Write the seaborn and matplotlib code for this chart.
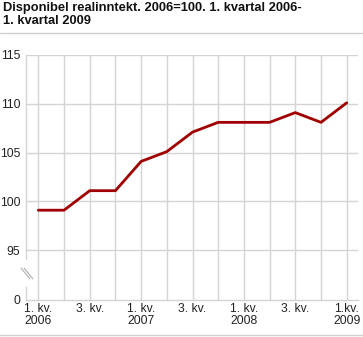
import numpy as np
import pandas as pd
import matplotlib
matplotlib.use("Agg")
import matplotlib.pyplot as plt
import seaborn as sns

quarters = list(range(13))
values = [99.1, 99.1, 101.1, 101.1, 104.1, 105.1, 107.1, 108.1, 108.1, 108.1, 109.1, 108.1, 110.1]
tick_pos = [0, 2, 4, 6, 8, 10, 12]
tick_labels = ["1. kv.\n2006", "3. kv.", "1. kv.\n2007", "3. kv.", "1. kv.\n2008", "3. kv.", "1.kv.\n2009"]
y_ticks = [0, 95, 100, 105, 110, 115]
title = "Disponibel realinntekt. 2006=100. 1. kvartal 2006-\n1. kvartal 2009"

sns.set_style("white")
plt.rcParams['font.family'] = ['Liberation Sans', 'DejaVu Sans']

def fwd(y):
    y = np.asarray(y, dtype=float)
    return np.where(y >= 95, y, 95 - (95 - y) / 95 * 5.1)

def inv(y):
    y = np.asarray(y, dtype=float)
    return np.where(y >= 95, y, 95 - (95 - y) * 95 / 5.1)

fig = plt.figure(figsize=(3.63, 3.37), dpi=100)
ax = fig.add_axes([26/363, 1 - 300/337, (358-26)/363, (300-55)/337])

df = pd.DataFrame({"q": quarters, "v": values})
ax.set_yscale("function", functions=(fwd, inv))
ax.set_ylim(0, 115)
ax.set_xlim(-0.48, 12.44)

grid_c = "#d4d4d4"
for yv in y_ticks[1:]:
    ax.axhline(yv, color=grid_c, lw=1, zorder=1)
for q in quarters:
    ax.axvline(q, color=grid_c, lw=1, zorder=1)

sns.lineplot(data=df, x="q", y="v", ax=ax, color="#a00000", lw=2, zorder=3)

ax.set_yticks(y_ticks)
ax.set_yticklabels([str(t) for t in y_ticks])
ax.set_xticks(tick_pos)
ax.set_xticklabels(tick_labels, ha="center", va="top", linespacing=1.0)
ax.tick_params(axis="both", length=0, labelsize=8.7, colors="#222222")
ax.tick_params(axis="x", pad=2)
ax.tick_params(axis="y", pad=4)
ax.set_xlabel("")
ax.set_ylabel("")

for s in ["top", "right"]:
    ax.spines[s].set_visible(False)
for s in ["left", "bottom"]:
    ax.spines[s].set_color(grid_c)
    ax.spines[s].set_linewidth(1)

# axis break marks
from matplotlib.lines import Line2D
fig.add_artist(Line2D([25/363, 27/363], [1-262/337, 1-284/337], color="white", lw=4))
for dx in (0, 3):
    fig.add_artist(Line2D([(21+dx)/363, (30+dx)/363], [1-268/337, 1-279/337], color="#b0b0b0", lw=0.8))

fig.text(3/363, 1 - 2/337, title, ha="left", va="top", fontsize=9.3, fontweight="bold", color="#111111", linespacing=1.1)
fig.add_artist(Line2D([0, 1], [1-33/337, 1-33/337], color="#d0d0d0", lw=1))
fig.add_artist(Line2D([0, 1], [1-335/337, 1-335/337], color="#d0d0d0", lw=1))

fig.savefig("out.png", dpi=100)
